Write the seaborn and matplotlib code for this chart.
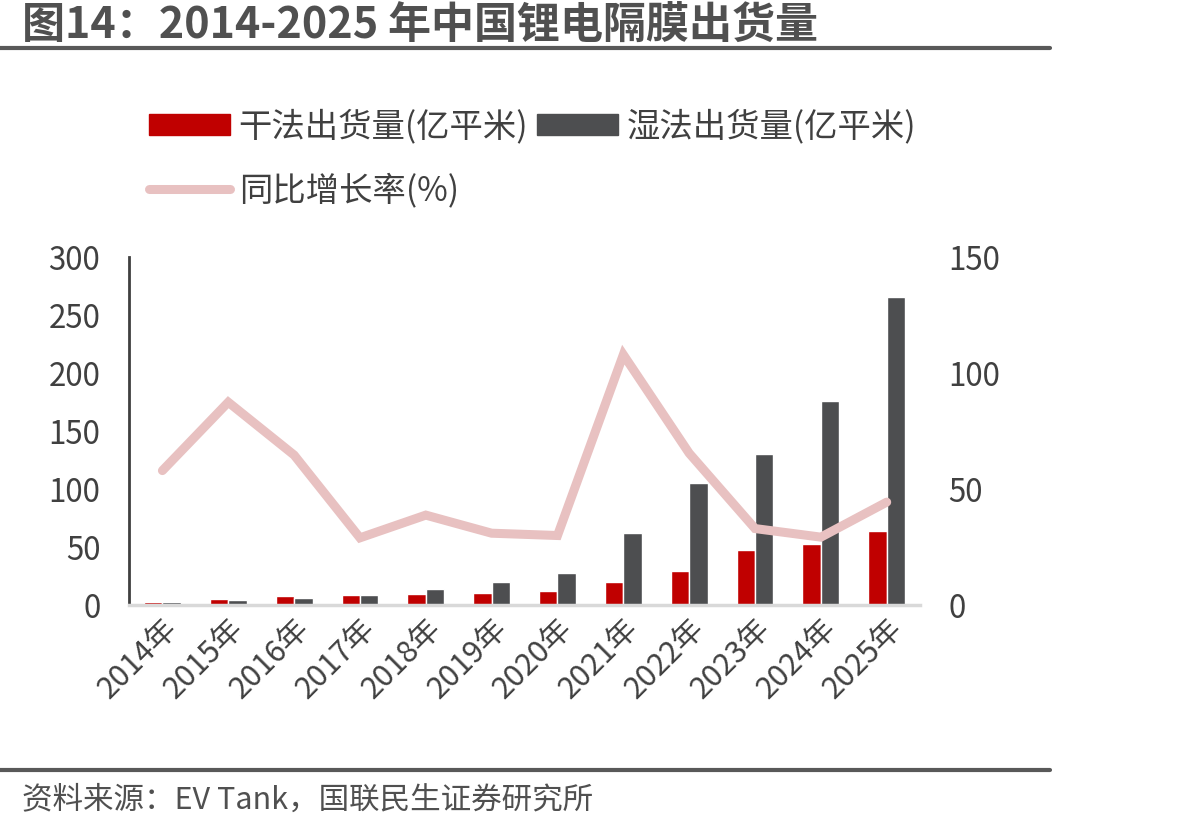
import pandas as pd
import matplotlib.pyplot as plt
import seaborn as sns
from matplotlib.patches import Patch
from matplotlib.lines import Line2D

# 数据
years = ['2014年', '2015年', '2016年', '2017年', '2018年', '2019年',
         '2020年', '2021年', '2022年', '2023年', '2024年', '2025年']
dry = [3, 5, 8, 9, 9.5, 10.5, 12.5, 20, 29.5, 47.5, 52.5, 64]
wet = [3, 4, 6, 9, 14, 20, 28, 62, 105.5, 130, 176, 266]
yoy = [58, 87.5, 64.7, 29, 38.8, 31, 30, 108, 65.5, 33, 29.3, 44.4]

dry_label = '干法出货量(亿平米)'
wet_label = '湿法出货量(亿平米)'
yoy_label = '同比增长率(%)'

sns.set_theme(style='white')
plt.rcParams['font.family'] = ['Noto Sans CJK SC', 'DejaVu Sans']

red = '#C00000'
dark = '#4D4E50'
pink = '#E8C1C1'
txt = '#404040'

df = pd.DataFrame({'year': years * 2,
                   'value': dry + wet,
                   'type': [dry_label] * 12 + [wet_label] * 12})

fig = plt.figure(figsize=(11.99, 8.30), dpi=100)
ax = fig.add_axes([0.108, 0.271, 0.659, 0.419])

sns.barplot(data=df, x='year', y='value', hue='type', palette=[red, dark],
            width=0.56, saturation=1, ax=ax, legend=False)
ax.set_xlim(-0.5, 11.5)
ax.set_ylim(0, 300)
ax.set_yticks([0, 50, 100, 150, 200, 250, 300])
ax.set_xlabel('')
ax.set_ylabel('')
ax.tick_params(axis='y', labelsize=22.5, colors=txt, length=0, pad=21)
ax.tick_params(axis='x', labelsize=22, colors=txt, length=0, pad=6)
for lab in ax.get_xticklabels():
    lab.set_rotation(45)
    lab.set_ha('right')
    lab.set_rotation_mode('anchor')
for s in ['top', 'right']:
    ax.spines[s].set_visible(False)
ax.spines['left'].set_color('#404040')
ax.spines['left'].set_linewidth(2)
ax.spines['bottom'].set_color('#D9D9D9')
ax.spines['bottom'].set_linewidth(2.5)

ax2 = ax.twinx()
sns.lineplot(x=list(range(12)), y=yoy, color=pink, linewidth=6.5, ax=ax2,
             solid_joinstyle='miter')
ax2.set_ylim(0, 150)
ax2.set_yticks([0, 50, 100, 150])
ax2.tick_params(axis='y', labelsize=22.5, colors=txt, length=0, pad=20.5)
for s in ax2.spines.values():
    s.set_visible(False)

# 图例
h1 = Patch(color=red)
h2 = Patch(color=dark)
h3 = Line2D([], [], color=pink, linewidth=6.5)
fig.legend([h1, h2], [dry_label, wet_label], ncol=2, loc='upper left',
           bbox_to_anchor=(0.099, 0.905), frameon=False, fontsize=24,
           handlelength=2.45, handleheight=0.6, columnspacing=0.25,
           handletextpad=0.25, labelcolor=txt)
fig.legend([h3], [yoy_label], loc='upper left',
           bbox_to_anchor=(0.099, 0.827), frameon=False, fontsize=24,
           handlelength=2.45, handletextpad=0.25, labelcolor=txt)

# 标题与来源
fig.text(0.018, 0.969, '图14：2014-2025 年中国锂电隔膜出货量', fontsize=31,
         fontweight='bold', color='#505050', va='center')
fig.add_artist(Line2D([0, 0.876], [0.942, 0.942], color='#595959', linewidth=3))
fig.add_artist(Line2D([0, 0.876], [0.072, 0.072], color='#595959', linewidth=3))
fig.text(0.018, 0.036, '资料来源：EV Tank，国联民生证券研究所', fontsize=22,
         color='#505050', va='center')

fig.savefig('out.png', dpi=100)
